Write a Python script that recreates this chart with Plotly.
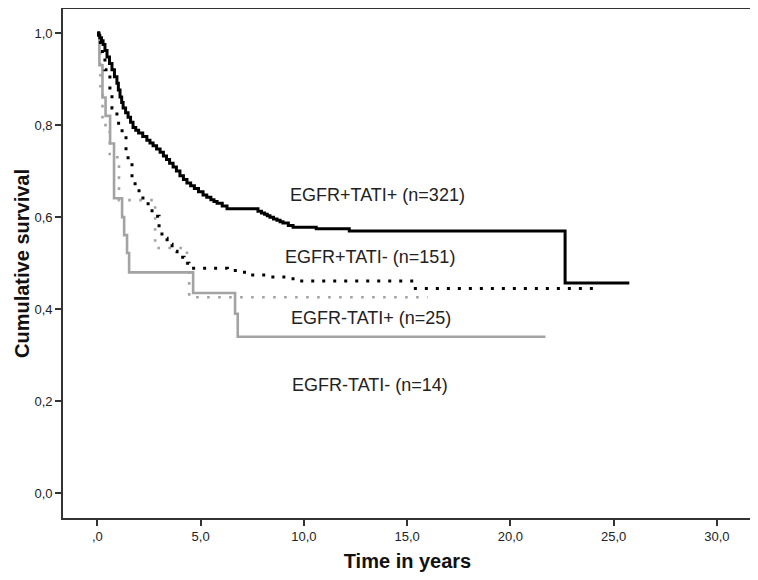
import plotly.graph_objects as go

# EGFR+TATI+ (n=321) - black solid
t_pp = [0, 0.06, 0.12, 0.2, 0.28, 0.37, 0.47, 0.59, 0.71, 0.83, 0.95, 1.02, 1.1, 1.18, 1.25, 1.37, 1.49, 1.61,
        1.73, 1.86, 2.0, 2.2, 2.4, 2.55, 2.7, 2.87, 3.04, 3.2, 3.35, 3.5, 3.67, 3.83, 4.0, 4.17, 4.34,
        4.52, 4.7, 4.9, 5.12, 5.3, 5.5, 5.65, 5.8, 6.05, 6.28, 7.78, 7.95, 8.1, 8.23, 8.36, 8.53, 8.7, 8.85,
        8.99, 9.25, 9.48, 10.6, 12.2, 22.65, 25.76]
s_pp = [1.0, 0.995, 0.99, 0.983, 0.975, 0.962, 0.948, 0.934, 0.92, 0.905, 0.891, 0.876, 0.861, 0.849, 0.837,
        0.827, 0.817, 0.806, 0.795, 0.789, 0.783, 0.775, 0.767, 0.761, 0.755, 0.748, 0.741, 0.733, 0.725,
        0.717, 0.709, 0.70, 0.69, 0.682, 0.674, 0.668, 0.662, 0.655, 0.648, 0.643, 0.638, 0.634, 0.63,
        0.624, 0.618, 0.613, 0.609, 0.606, 0.603, 0.60, 0.596, 0.593, 0.59, 0.587, 0.582, 0.578, 0.575,
        0.570, 0.457, 0.457]

# EGFR+TATI- (n=151) - black dotted
t_pm = [0, 0.15, 0.37, 0.61, 0.71, 0.95, 1.2, 1.39, 1.49, 1.68, 1.83, 2.02, 2.21, 2.46, 2.65, 2.99, 3.13,
        3.38, 3.62, 3.86, 4.2, 4.44, 6.3, 6.77, 7.4, 8.2, 9.33, 9.67, 15.3, 24.2]
s_pm = [1.0, 0.96, 0.92, 0.876, 0.837, 0.804, 0.783, 0.743, 0.72, 0.685, 0.667, 0.648, 0.633, 0.617, 0.602,
        0.572, 0.554, 0.541, 0.526, 0.513, 0.50, 0.489, 0.484, 0.48, 0.474, 0.47, 0.466, 0.461, 0.445, 0.445]

# EGFR-TATI+ (n=25) - grey dotted
t_mp = [0, 0.15, 0.25, 0.6, 1.05, 2.8, 4.34, 4.45, 16.0]
s_mp = [1.0, 0.88, 0.80, 0.73, 0.637, 0.533, 0.50, 0.426, 0.426]

# EGFR-TATI- (n=14) - grey solid
t_mm = [0, 0.1, 0.25, 0.4, 0.62, 0.81, 1.2, 1.3, 1.44, 1.54, 4.64, 6.67, 6.8, 21.7]
s_mm = [1.0, 0.93, 0.86, 0.82, 0.76, 0.641, 0.60, 0.561, 0.522, 0.48, 0.435, 0.39, 0.34, 0.34]

labels = ["EGFR+TATI+ (n=321)", "EGFR+TATI- (n=151)", "EGFR-TATI+ (n=25)", "EGFR-TATI- (n=14)"]
label_x = [13.55, 13.2, 13.25, 13.2]
label_y = [0.648, 0.513, 0.380, 0.235]

x_ticks = [0, 5, 10, 15, 20, 25, 30]
x_ticktext = [",0", "5,0", "10,0", "15,0", "20,0", "25,0", "30,0"]
y_ticks = [0, 0.2, 0.4, 0.6, 0.8, 1.0]
y_ticktext = ["0,0", "0,2", "0,4", "0,6", "0,8", "1,0"]

GREY = "#a3a3a3"
fig = go.Figure()
fig.add_trace(go.Scatter(x=t_mm, y=s_mm, mode="lines", line=dict(shape="hv", color=GREY, width=2.6),
                         showlegend=False, hoverinfo="skip"))
fig.add_trace(go.Scatter(x=t_mp, y=s_mp, mode="lines", line=dict(shape="hv", color=GREY, width=2.6, dash="2.6px,8.4px"),
                         showlegend=False, hoverinfo="skip"))
fig.add_trace(go.Scatter(x=t_pm, y=s_pm, mode="lines", line=dict(shape="hv", color="black", width=3, dash="3px,8px"),
                         showlegend=False, hoverinfo="skip"))
fig.add_trace(go.Scatter(x=t_pp, y=s_pp, mode="lines", line=dict(shape="hv", color="black", width=3),
                         showlegend=False, hoverinfo="skip"))

for txt, lx, ly in zip(labels, label_x, label_y):
    fig.add_annotation(x=lx, y=ly, text=txt, showarrow=False, xanchor="center", yanchor="middle",
                       font=dict(family="Liberation Sans, Arial", size=18, color="#222"))

axis_common = dict(showline=True, mirror=True, linecolor="#333", linewidth=1.6, showgrid=False, zeroline=False,
                   ticks="outside", ticklen=6, tickwidth=1.6, tickcolor="#333", automargin=False,
                   tickfont=dict(family="Liberation Sans, Arial", size=13, color="#222"))

# page has an 8px body margin, so the figure is sized to the remaining viewport
fig.update_layout(
    width=750, height=572,
    margin=dict(l=55, r=6, t=1, b=62),
    plot_bgcolor="white", paper_bgcolor="white",
    xaxis=dict(range=[-1.661, 31.7], tickvals=x_ticks, ticktext=x_ticktext,
               title=dict(text="<b>Time in years</b>", standoff=11,
                          font=dict(family="Liberation Sans, Arial", size=20, color="#111")),
               **axis_common),
    yaxis=dict(range=[-0.0537, 1.0522], tickvals=y_ticks, ticktext=y_ticktext,
               title=dict(text="<b>Cumulative survival</b>", standoff=0,
                          font=dict(family="Liberation Sans, Arial", size=20, color="#111")),
               **axis_common),
)

fig.write_html("out.html")
